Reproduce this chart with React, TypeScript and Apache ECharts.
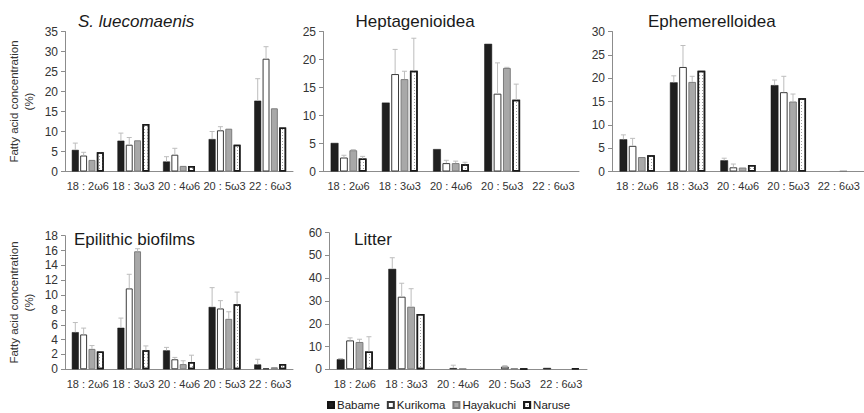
import React, { useEffect, useRef } from "react";
import * as echarts from "echarts";

const categories = ["18 : 2ω6", "18 : 3ω3", "20 : 4ω6", "20 : 5ω3", "22 : 6ω3"];
const sites = ["Babame", "Kurikoma", "Hayakuchi", "Naruse"];
const panelTitles = ["S. luecomaenis", "Heptagenioidea", "Ephemerelloidea", "Epilithic biofilms", "Litter"];
const yMax = [35, 25, 30, 18, 60];
const yStep = [5, 5, 5, 2, 10];

// means, one row per site (Babame, Kurikoma, Hayakuchi, Naruse)
const sLuecomaenisMean = [
  [5.4, 7.7, 2.5, 8.1, 17.7],
  [4.0, 6.7, 4.2, 10.3, 28.2],
  [2.9, 7.8, 1.4, 10.7, 15.8],
  [4.8, 11.9, 1.4, 6.7, 11.0],
];
const sLuecomaenisErr = [
  [1.7, 1.9, 1.2, 1.9, 5.5],
  [0.8, 1.8, 1.6, 0.9, 3.0],
  [0, 0, 0, 0, 0],
  [0, 0, 0, 0, 0],
];
const heptagenioideaMean = [
  [5.1, 12.3, 4.0, 22.8, 0],
  [2.5, 17.4, 1.5, 13.9, 0],
  [3.8, 16.5, 1.5, 18.5, 0],
  [2.3, 18.0, 1.3, 12.8, 0],
];
const heptagenioideaErr = [
  [0, 0, 0, 0, 0],
  [0.4, 4.4, 0.5, 5.5, 0],
  [0.1, 1.4, 0.35, 0.1, 0],
  [0.4, 5.8, 0.35, 2.8, 0],
];
const ephemerelloideaMean = [
  [6.9, 19.1, 2.4, 18.5, 0],
  [5.5, 22.4, 0.9, 17.0, 0],
  [3.1, 19.2, 0.85, 15.0, 0.1],
  [3.5, 21.6, 1.4, 15.7, 0],
];
const ephemerelloideaErr = [
  [0.95, 1.4, 0.45, 1.1, 0],
  [1.6, 4.6, 0.7, 3.4, 0],
  [0, 1.2, 0, 1.6, 0],
  [0, 0, 0, 0, 0],
];
const biofilmMean = [
  [5.0, 5.6, 2.55, 8.4, 0.65],
  [4.7, 10.9, 1.35, 8.2, 0.13],
  [2.75, 15.9, 0.7, 6.8, 0.27],
  [2.4, 2.55, 1.0, 8.75, 0.7],
];
const biofilmErr = [
  [1.3, 1.3, 0.4, 2.6, 0.7],
  [0.85, 1.9, 0.25, 1.05, 0],
  [0.45, 0.35, 0.45, 0.95, 0],
  [0, 0.6, 0.9, 1.65, 0],
];
const litterMean = [
  [4.4, 44.1, 0, 0, 0.6],
  [12.7, 31.9, 0.6, 1.2, 0],
  [12.0, 27.5, 0.3, 0.4, 0],
  [7.8, 24.3, 0, 0.25, 0.4],
];
const litterErr = [
  [0.3, 4.9, 0, 0, 0],
  [1.1, 5.9, 1.2, 0.4, 0],
  [1.2, 7.9, 0, 0, 0],
  [6.5, 0, 0, 0, 0],
];

const means = [sLuecomaenisMean, heptagenioideaMean, ephemerelloideaMean, biofilmMean, litterMean];
const errs = [sLuecomaenisErr, heptagenioideaErr, ephemerelloideaErr, biofilmErr, litterErr];

const FONT = "'Liberation Sans', Arial, sans-serif";
const CAT_GAP = 0.3;
const BAR_GAP = 0.2;

const grids = [
  { left: 65, top: 31.5, width: 228, height: 140 },
  { left: 323, top: 31.5, width: 256, height: 140 },
  { left: 612, top: 31.5, width: 259, height: 140 },
  { left: 65, top: 235.7, width: 228, height: 133.6 },
  { left: 329, top: 232.7, width: 258, height: 136.6 },
];
const titlePos = [
  { left: 78, top: 12.5, italic: true },
  { left: 355.5, top: 12.5 },
  { left: 648, top: 12.5 },
  { left: 74, top: 230.5 },
  { left: 354, top: 230.5 },
];

const barStyles: any[] = [
  { color: "#1f1f1f", borderColor: "#141414", borderWidth: 0.5 },
  { color: "#ffffff", borderColor: "#3a3a3a", borderWidth: 1 },
  { color: "#a8a8a8", borderColor: "#7c7c7c", borderWidth: 1 },
  {
    color: "#ffffff",
    borderColor: "#1a1a1a",
    borderWidth: 1.5,
    decal: {
      symbol: "rect",
      symbolSize: 1,
      dashArrayX: [1, 2],
      dashArrayY: [1, 2],
      color: "#a0a0a0",
      backgroundColor: "#ffffff",
      rotation: 0,
    },
  },
];

export default function App() {
  const ref = useRef<HTMLDivElement>(null);
  useEffect(() => {
    if (!ref.current) return;
    const chart = echarts.init(ref.current, null, { renderer: "svg" });

    const series: any[] = [];
    means.forEach((panel, p) => {
      panel.forEach((vals, s) => {
        series.push({
          type: "bar",
          name: sites[s],
          xAxisIndex: p,
          yAxisIndex: p,
          barGap: BAR_GAP * 100 + "%",
          barCategoryGap: CAT_GAP * 100 + "%",
          itemStyle: barStyles[s],
          data: vals.map((v) => (v === 0 ? "-" : v)),
        });
      });
      const errData: any[] = [];
      panel.forEach((vals, s) => {
        vals.forEach((v, c) => {
          const e = errs[p][s][c];
          if (e > 0) errData.push([c, v, e, s]);
        });
      });
      series.push({
        type: "custom",
        name: "error",
        xAxisIndex: p,
        yAxisIndex: p,
        z: 5,
        data: errData,
        encode: { x: 0, y: 1 },
        renderItem: (params: any, api: any) => {
          const c = api.value(0);
          const v = api.value(1);
          const e = api.value(2);
          const s = api.value(3);
          const band = api.size([1, 0])[0];
          const usable = band * (1 - CAT_GAP);
          const bw = usable / (4 + 3 * BAR_GAP);
          const cx = api.coord([c, 0])[0] - usable / 2 + s * bw * (1 + BAR_GAP) + bw / 2;
          const y0 = api.coord([c, v])[1];
          const y1 = api.coord([c, v + e])[1];
          const st = { stroke: "#bdbdbd", lineWidth: 1, fill: null };
          return {
            type: "group",
            children: [
              { type: "line", shape: { x1: cx, y1: y0, x2: cx, y2: y1 }, style: st },
              { type: "line", shape: { x1: cx - 2.5, y1: y1, x2: cx + 2.5, y2: y1 }, style: st },
            ],
          };
        },
      });
    });

    const option: any = {
      animation: false,
      textStyle: { fontFamily: FONT },
      title: panelTitles.map((t, i) => ({
        text: t,
        left: titlePos[i].left,
        top: titlePos[i].top,
        padding: 0,
        textStyle: {
          fontFamily: FONT,
          fontSize: 17,
          fontWeight: "normal",
          fontStyle: titlePos[i].italic ? "italic" : "normal",
          color: "#1a1a1a",
        },
      })),
      grid: grids.map((g) => ({ ...g, containLabel: false })),
      xAxis: grids.map((g, i) => ({
        type: "category",
        gridIndex: i,
        data: categories,
        axisLine: { lineStyle: { color: "#8c8c8c", width: 1 } },
        axisTick: { show: false },
        axisLabel: { fontFamily: FONT, fontSize: 11, color: "#333333", margin: 9, interval: 0 },
      })),
      yAxis: grids.map((g, i) => ({
        type: "value",
        gridIndex: i,
        min: 0,
        max: yMax[i],
        interval: yStep[i],
        splitLine: { show: false },
        axisLine: { show: true, lineStyle: { color: "#8c8c8c", width: 1 } },
        axisTick: { show: true, length: 4, lineStyle: { color: "#8c8c8c" } },
        axisLabel: { fontFamily: FONT, fontSize: 12, color: "#333333", margin: 7 },
        name: i === 0 || i === 3 ? "Fatty acid concentration\n(%)" : "",
        nameLocation: "middle",
        nameRotate: 90,
        nameGap: 29,
        nameTextStyle: { fontFamily: FONT, fontSize: 11.5, color: "#333333", lineHeight: 15 },
      })),
      legend: {
        data: sites,
        left: 327,
        top: 399,
        icon: "rect",
        itemWidth: 6,
        itemHeight: 6,
        itemGap: 7,
        selectedMode: false,
        padding: 0,
        textStyle: { fontFamily: FONT, fontSize: 11.5, color: "#222222", padding: [0, 0, 0, -2] },
      },
      series,
    };
    chart.setOption(option);
    return () => chart.dispose();
  }, []);
  return (
    <div
      ref={ref}
      style={{ position: "fixed", left: 0, top: 0, width: 864, height: 413, background: "#ffffff" }}
    />
  );
}
